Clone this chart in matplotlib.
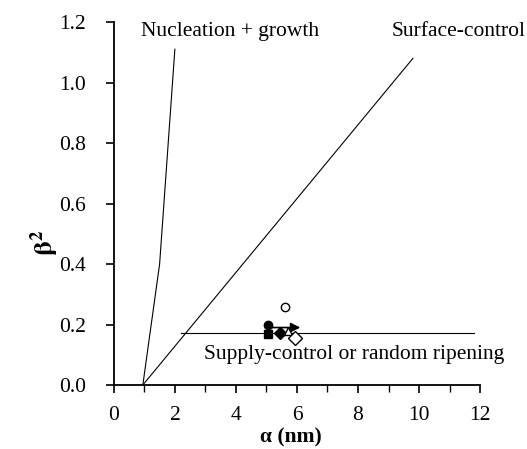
import matplotlib
matplotlib.use("Agg")
import matplotlib.pyplot as plt
from matplotlib.ticker import MultipleLocator

plt.rcParams['font.family'] = ['Liberation Serif', 'DejaVu Serif']
plt.rcParams['mathtext.fontset'] = 'stix'

# model lines
nuc_x = [0.95, 1.5, 2.0]
nuc_y = [0.0, 0.4, 1.11]
surf_x = [0.95, 9.8]
surf_y = [0.0, 1.08]
supply_x = [2.2, 11.8]
supply_y = [0.171, 0.171]

# data points
filled_circle = (5.04, 0.20)
filled_square = (5.04, 0.169)
filled_diamond = (5.44, 0.172)
open_triangles_x = [5.7]
open_triangles_y = [0.18]
open_diamond = (5.93, 0.155)
open_circle = (5.6, 0.259)

fig = plt.figure(figsize=(5.27, 4.49), dpi=100)
ax = fig.add_axes([0.216, 0.1425, 0.695, 0.8085])

ax.plot(nuc_x, nuc_y, color='black', lw=0.8)
ax.plot(surf_x, surf_y, color='black', lw=0.8)
ax.plot(supply_x, supply_y, color='black', lw=0.8)

ax.annotate('', xy=(6.2, 0.19), xytext=(5.04, 0.19),
            arrowprops=dict(arrowstyle='-|>', color='black', lw=1.2, mutation_scale=14))
ax.plot(*filled_circle, 'o', color='black', ms=6)
ax.plot(*filled_square, 's', color='black', ms=6)
ax.plot(*filled_diamond, 'D', color='black', ms=6)
ax.plot(open_triangles_x, open_triangles_y, '^', mfc='white', mec='black', ms=6, ls='none')
ax.plot(*open_diamond, 'D', mfc='white', mec='black', ms=7)
ax.plot(*open_circle, 'o', mfc='white', mec='black', ms=6)

fs = 15.5
ax.text(0.9, 1.17, 'Nucleation + growth', fontsize=fs, va='center', ha='left')
ax.text(9.1, 1.17, 'Surface-control', fontsize=fs, va='center', ha='left', clip_on=False)
ax.text(2.95, 0.10, 'Supply-control or random ripening', fontsize=fs, va='center', ha='left')

ax.set_xlim(0, 12)
ax.set_ylim(0, 1.2)
ax.xaxis.set_major_locator(MultipleLocator(2))
ax.xaxis.set_minor_locator(MultipleLocator(1))
ax.set_yticks([0.0, 0.2, 0.4, 0.6, 0.8, 1.0, 1.2])
ax.set_yticklabels(['0.0', '0.2', '0.4', '0.6', '0.8', '1.0', '1.2'])
ax.tick_params(axis='y', which='major', direction='out', length=6, width=1.2, labelsize=fs, pad=14)
ax.tick_params(axis='x', which='major', direction='out', length=6, width=1.2, labelsize=fs, pad=9)
ax.tick_params(axis='x', which='minor', direction='out', length=5, width=1.0)
for s in ['top', 'right']:
    ax.spines[s].set_visible(False)
for s in ['left', 'bottom']:
    ax.spines[s].set_linewidth(1.3)

ax.set_xlabel('α (nm)', fontsize=fs, fontweight='bold')
ax.xaxis.set_label_coords(0.484, -0.118)
ax.set_ylabel(r'$\mathbf{\beta^2}$', fontsize=19)
ax.yaxis.set_label_coords(-0.145, 0.39)

fig.savefig('out.png', dpi=100)
